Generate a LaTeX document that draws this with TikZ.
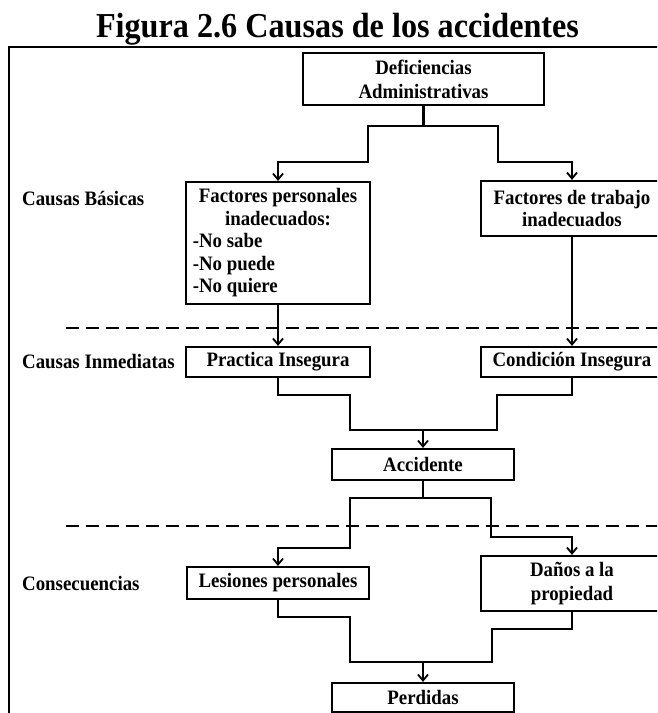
\documentclass[tikz,border=0pt]{standalone}
\usepackage{fontspec}
\setmainfont{Liberation Serif}[FakeStretch=0.92]
\usetikzlibrary{arrows.meta}
\tikzset{
  boxnode/.style={draw, line width=2.2pt, inner sep=0pt, align=center,
    font=\bfseries\fontsize{20.5}{24}\selectfont},
  lbl/.style={anchor=west, inner sep=0pt, font=\bfseries\fontsize{20.5}{24}\selectfont},
  conn/.style={line width=2.1pt},
  arr/.style={line width=2.1pt, -{Straight Barb[length=6pt,width=10pt,line width=1.8pt]}},
  dashline/.style={line width=2.2pt, dash pattern=on 13pt off 7pt}
}
\begin{document}
\begin{tikzpicture}[x=1pt,y=-1pt]
\clip (0,0) rectangle (657,713);
\fill[white] (0,0) rectangle (657,713);

% title
\node[anchor=base, inner sep=0pt, font=\bfseries\fontsize{35}{38}\selectfont] (title) at (337.5,37) {Figura 2.6 Causas de los accidentes};

% outer frame
\draw[line width=2.2pt] (9,720) -- (9,47) -- (665,47);

% boxes
\node[boxnode, minimum width=241pt, minimum height=52pt] (def) at (423.5,79) {Deficiencias\\Administrativas};
\node[boxnode, minimum width=184pt, minimum height=122pt, font=\bfseries\fontsize{20.5}{22.5}\selectfont] (fp) at (278,243)
  {\begin{tabular}{@{}l@{}}\multicolumn{1}{c}{Factores personales}\\\multicolumn{1}{c}{inadecuados:}\\-No sabe\\-No puede\\-No quiere\end{tabular}};
\node[boxnode, minimum width=182pt, minimum height=55pt, font=\bfseries\fontsize{20.5}{22.5}\selectfont] (ft) at (572,208.5) {Factores de trabajo\\inadecuados};
\node[boxnode, minimum width=184pt, minimum height=30pt] (pi) at (278,362) {Practica Insegura};
\node[boxnode, minimum width=182pt, minimum height=30pt] (ci) at (572,362) {Condición Insegura};
\node[boxnode, minimum width=182pt, minimum height=31pt] (acc) at (423,464.5) {Accidente};
\node[boxnode, minimum width=182pt, minimum height=32pt] (les) at (278,583) {Lesiones personales};
\node[boxnode, minimum width=182pt, minimum height=55pt] (dan) at (572,583.5) {Daños a la\\propiedad};
\node[boxnode, minimum width=182pt, minimum height=29pt] (per) at (423,697.5) {Perdidas};

% side labels
\node[lbl] (lb1) at (22,198) {Causas Básicas};
\node[lbl] (lb2) at (22,362) {Causas Inmediatas};
\node[lbl] (lb3) at (22,584) {Consecuencias};

% dashed separators
\draw[dashline] (66,328) -- (665,328);
\draw[dashline] (66,526) -- (665,526);

% connectors
\draw[arr] (def.south) |- (368,126) -- (368,162) -| (fp.north);
\draw[arr] (def.south) |- (498,126) -- (498,162) -| (ft.north);
\draw[arr] (fp.south) -- (pi.north);
\draw[arr] (ft.south) -- (ci.north);
\draw[conn] (pi.south) |- (350,395) -- (350,430) -- (497,430) -- (497,395) -| (ci.south);
\coordinate (j1) at (423,430);
\draw[arr] (j1) -- (acc.north);
\draw[arr] (acc.south) |- (350,498) -- (350,548) -| (les.north);
\draw[arr] (acc.south) |- (491,498) -- (491,537) -| (dan.north);
\draw[conn] (les.south) |- (350,617) -- (350,662) -- (492,662) -- (492,629) -| (dan.south);
\coordinate (j2) at (423,662);
\draw[arr] (j2) -- (per.north);
\end{tikzpicture}
\end{document}
